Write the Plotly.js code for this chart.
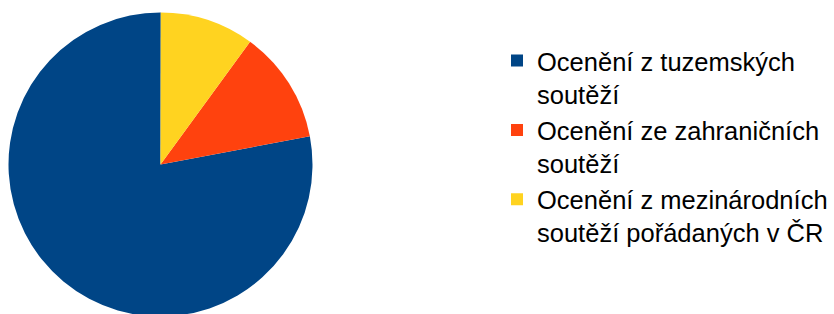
<!DOCTYPE html>
<html>
<head>
<meta charset="utf-8">
<script src="https://cdn.plot.ly/plotly-3.0.1.min.js"></script>
<style>
html,body{margin:0;padding:0;overflow:hidden;background:#fff;}
#chart{width:834px;height:330px;}
</style>
</head>
<body>
<div id="chart"></div>
<script>
const categories = [
  "Ocenění z tuzemských<br>soutěží",
  "Ocenění ze zahraničních<br>soutěží",
  "Ocenění z mezinárodních<br>soutěží pořádaných v ČR"
];
const values = [78, 12, 10];
const colors = ["#004586", "#ff420e", "#ffd320"];

const W = 834, H = 330;
const trace = {
  type: "pie",
  labels: categories,
  values: values,
  sort: false,
  direction: "counterclockwise",
  rotation: 79.3,
  textinfo: "none",
  hoverinfo: "label+percent",
  marker: {colors: colors, line: {width: 0}},
  domain: {x: [8.5 / W, 312.5 / W], y: [(H - 316.5) / H, (H - 12.5) / H]}
};
const layout = {
  width: W, height: H,
  margin: {l: 0, r: 0, t: 0, b: 0, autoexpand: false},
  paper_bgcolor: "#fff",
  showlegend: true,
  legend: {
    x: 497 / W, xanchor: "left",
    y: (H - 37.5) / H, yanchor: "top",
    valign: "top",
    font: {family: "Liberation Sans, Arial, sans-serif", size: 25.5, color: "#000"},
    tracegroupgap: 0,
    itemclick: false
  },
  font: {family: "Liberation Sans, Arial, sans-serif"}
};
Plotly.newPlot("chart", [trace], layout, {staticPlot: true, displayModeBar: false});
</script>
</body>
</html>
